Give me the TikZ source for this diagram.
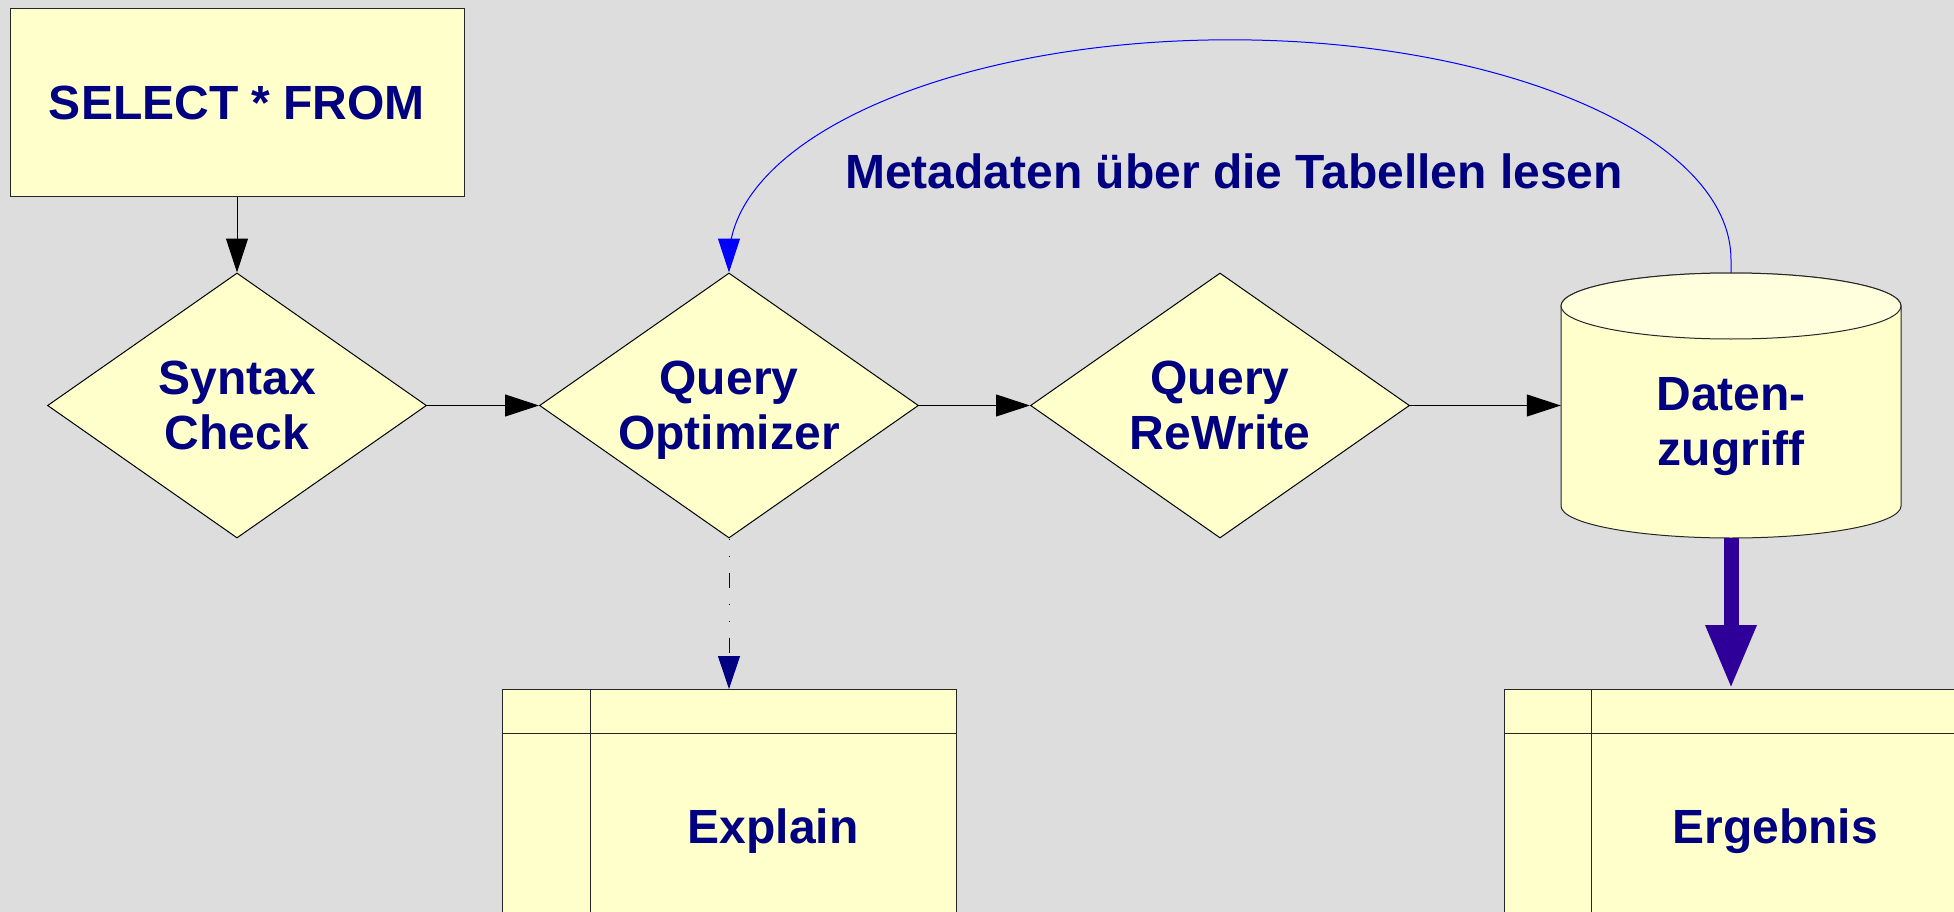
\documentclass[tikz,border=0pt]{standalone}
\usepackage{fontspec}
\setmainfont{Liberation Sans}
\usetikzlibrary{shapes.geometric,arrows.meta}
\definecolor{bg}{HTML}{DDDDDD}
\definecolor{boxfill}{HTML}{FFFFCC}
\definecolor{topfill}{HTML}{FFFFDE}
\definecolor{labelblue}{HTML}{000080}
\definecolor{flowpurple}{HTML}{2E0099}
\begin{document}
\begin{tikzpicture}[x=1pt,y=-1pt,
  lbl/.style={font=\fontsize{48}{55}\selectfont\bfseries, text=labelblue, align=center},
  box/.style={draw=black!85, line width=1pt, fill=boxfill},
  decision/.style={box, draw=black, diamond, aspect=1.43, minimum width=379pt,
    minimum height=265pt, inner sep=0pt, lbl},
  tablebox/.style={box, minimum width=454pt, minimum height=271pt, inner sep=0pt, anchor=north},
  gridline/.style={draw=black!85, line width=1pt},
  flow/.style={draw=black, line width=1pt, -{Triangle[length=34pt,width=22pt]}},
]
\fill[bg] (0,0) rectangle (1954,912);
\clip (0,0) rectangle (1954,912);

% query and processing steps
\node[box, lbl, minimum width=454pt, minimum height=188pt, inner sep=0pt] (select) at (237,103) {SELECT * FROM};
\node[decision] (syntax) at (237,405.5) {Syntax\\\smash{Check}};
\node[decision] (optim) at (729,405.5) {Query\\\smash{Optimizer}};
\node[decision] (rewrite) at (1220,405.5) {Query\\\smash{ReWrite}};

% data store (cylinder)
\node[minimum width=340pt, minimum height=265pt, inner sep=0pt] (db) at (1731,405.5) {};
\path[box] (1561,306) -- (1561,506)
  arc[start angle=180, end angle=360, x radius=170pt, y radius=32pt]
  -- (1901,306)
  arc[start angle=0, end angle=180, x radius=170pt, y radius=33pt] -- cycle;
\path[box, fill=topfill] (1731,306) ellipse[x radius=170pt, y radius=33pt];
\node[lbl] (dblabel) at (1731,427) {Daten-\\zugriff};

% result tables
\node[tablebox] (expltab) at (729,689) {};
\draw[gridline] ([xshift=89pt]expltab.north west) -- ([xshift=89pt]expltab.south west);
\draw[gridline] ([yshift=-44pt]expltab.north west) -- ([yshift=-44pt]expltab.north east);
\node[lbl, anchor=base] (expl) at (773,843) {Explain};

\node[tablebox] (ergtab) at (1731,689) {};
\draw[gridline] ([xshift=88pt]ergtab.north west) -- ([xshift=88pt]ergtab.south west);
\draw[gridline] ([yshift=-44pt]ergtab.north west) -- ([yshift=-44pt]ergtab.north east);
\node[lbl, anchor=base] (erg) at (1775,843) {Ergebnis};

% connectors
\draw[flow] (select.south) -- (syntax.north);
\draw[flow] (syntax.east) -- (optim.west);
\draw[flow] (optim.east) -- (rewrite.west);
\draw[flow] (rewrite.east) -- (db.west);

% metadata loop: half ellipse over the processing chain
\draw[draw=blue, line width=1pt, -{Triangle[length=34pt,width=22pt]}]
  (db.north) -- ++(0,-13)
  arc[start angle=0, end angle=180, x radius=501pt, y radius=220pt]
  -- (optim.north);
\node[lbl, anchor=base] (meta) at (1234,189) {Metadaten über die Tabellen lesen};

\draw[labelblue, line width=1pt,
  dash pattern=on 1pt off 16pt on 1pt off 16pt on 15pt off 16pt,
  -{Triangle[length=33pt,width=22pt]}] (optim.south) -- (expltab.north);

\draw[flowpurple, line width=15pt, -{Triangle[length=64pt,width=47pt]}] (db.south) -- (ergtab.north);
\end{tikzpicture}
\end{document}
